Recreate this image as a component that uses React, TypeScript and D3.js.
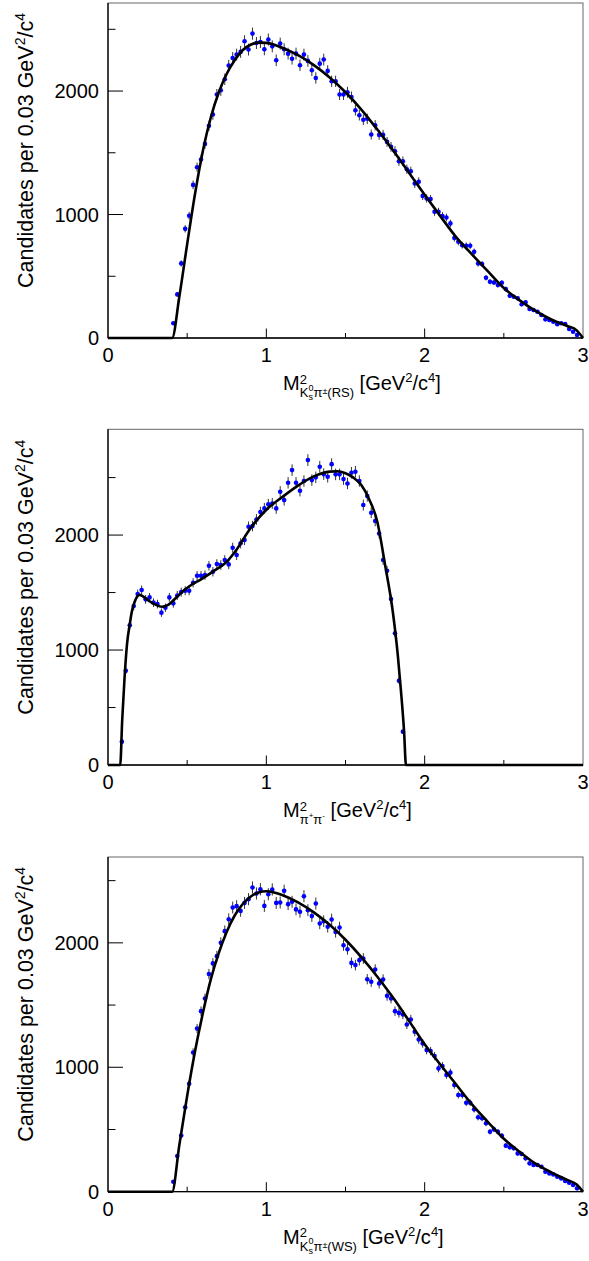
import React from "react";
import * as d3 from "d3";

// ---------- data ----------
const BIN_WIDTH = 0.025;
const X_TICKS = [0, 1, 2, 3];
const X_MINOR = [0.5, 1.5, 2.5];
const Y_TICKS = [0, 1000, 2000];
const Y_MINOR = [500, 1500, 2500];

// K_s pi (RS) : first bin index 16
const rsStart = 16;
const rsCounts = [
  119, 353, 604, 884, 990, 1240, 1383, 1446, 1572, 1718, 1810, 1972, 2006, 2095, 2206, 2268,
  2295, 2317, 2403, 2336, 2465, 2389, 2397, 2338, 2417, 2362, 2249, 2384, 2338, 2303, 2262,
  2303, 2209, 2295, 2244, 2168, 2106, 2222, 2255, 2163, 2079, 2079, 1972, 1972, 1990, 1952,
  1845, 1804, 1767, 1775, 1648, 1723, 1645, 1645, 1588, 1548, 1513, 1432, 1432, 1367, 1351,
  1251, 1265, 1151, 1130, 1125, 1022, 1022, 987, 976, 928, 810, 779, 752, 747, 747, 698, 604,
  599, 488, 456, 450, 429, 448, 396, 342, 334, 321, 273, 289, 235, 227, 213, 186, 151, 146,
  132, 111, 119, 113, 73, 51, 24,
];
const rsFit: [number, number][] = [
  [0, 0], [0.405, 0], [0.45, 330], [0.5, 760], [0.55, 1170], [0.6, 1520], [0.65, 1790],
  [0.7, 1990], [0.75, 2140], [0.8, 2250], [0.85, 2330], [0.9, 2375], [0.95, 2392], [1.0, 2390],
  [1.05, 2375], [1.1, 2350], [1.2, 2290], [1.3, 2210], [1.4, 2110], [1.5, 1990], [1.6, 1850],
  [1.7, 1690], [1.8, 1520], [1.9, 1340], [2.0, 1160], [2.1, 985], [2.2, 815], [2.3, 675],
  [2.4, 540], [2.5, 405], [2.6, 305], [2.7, 220], [2.8, 150], [2.9, 97], [2.96, 62], [3.0, 0],
];

// pi+ pi- : first bin index 3
const pipiStart = 3;
const pipiCounts = [
  203, 820, 1215, 1383, 1487, 1522, 1441, 1458, 1412, 1400, 1325, 1368, 1458, 1406, 1475,
  1504, 1516, 1516, 1585, 1646, 1646, 1652, 1733, 1681, 1748, 1739, 1783, 1745, 1890, 1826,
  1928, 1957, 2072, 2078, 2136, 2200, 2232, 2267, 2275, 2232, 2377, 2304, 2455, 2565, 2455,
  2385, 2470, 2652, 2478, 2502, 2594, 2530, 2507, 2617, 2528, 2528, 2487, 2449, 2542, 2551,
  2470, 2261, 2339, 2194, 2122, 2014, 1783, 1690, 1443, 1145, 733, 290,
];
const pipiFit: [number, number][] = [
  [0, 0], [0.077, 0], [0.09, 400], [0.105, 770], [0.12, 1050], [0.137, 1220], [0.15, 1330],
  [0.17, 1425], [0.185, 1468], [0.2, 1480], [0.225, 1462], [0.25, 1435], [0.3, 1395],
  [0.34, 1377], [0.38, 1392], [0.43, 1455], [0.48, 1520], [0.53, 1570], [0.58, 1609],
  [0.66, 1680], [0.76, 1783], [0.8, 1850], [0.9, 2060], [1.0, 2220], [1.1, 2330], [1.2, 2430],
  [1.3, 2510], [1.4, 2552], [1.45, 2555], [1.5, 2538], [1.55, 2500], [1.6, 2435], [1.65, 2310],
  [1.7, 2120], [1.75, 1740], [1.8, 1320], [1.83, 960], [1.85, 650], [1.87, 290], [1.882, 0],
  [3.0, 0],
];

// K_s pi (WS) : first bin index 16
const wsStart = 16;
const wsCounts = [
  80, 287, 451, 678, 867, 1119, 1312, 1451, 1553, 1749, 1835, 1893, 2000, 2094, 2190, 2284,
  2295, 2257, 2321, 2351, 2445, 2397, 2431, 2297, 2391, 2429, 2321, 2324, 2418, 2311, 2330,
  2269, 2250, 2375, 2263, 2215, 2316, 2156, 2174, 2129, 2188, 2088, 2123, 1981, 1949, 1839,
  1821, 1861, 1874, 1708, 1687, 1786, 1674, 1706, 1574, 1553, 1451, 1437, 1424, 1344, 1384,
  1285, 1224, 1192, 1138, 1130, 1090, 991, 1010, 938, 957, 857, 777, 777, 715, 715, 662, 598,
  590, 550, 482, 501, 482, 450, 370, 357, 349, 308, 303, 268, 228, 214, 214, 201, 161, 147,
  139, 120, 107, 86, 72, 54, 27,
];
const wsFit: [number, number][] = [
  [0, 0], [0.405, 0], [0.45, 370], [0.5, 770], [0.55, 1130], [0.6, 1440], [0.65, 1710],
  [0.7, 1920], [0.75, 2090], [0.8, 2220], [0.85, 2310], [0.9, 2370], [0.95, 2405], [1.0, 2415],
  [1.05, 2405], [1.1, 2385], [1.2, 2325], [1.3, 2245], [1.4, 2145], [1.5, 2025], [1.6, 1885],
  [1.7, 1730], [1.8, 1560], [1.9, 1375], [2.0, 1185], [2.1, 1020], [2.2, 860], [2.3, 700],
  [2.4, 560], [2.5, 425], [2.6, 320], [2.7, 225], [2.8, 155], [2.9, 95], [2.96, 58], [3.0, 0],
];

// ---------- layout ----------
const LEFT = 108;
const RIGHT = 583;
const FONT = "'Liberation Sans', Arial, Helvetica, sans-serif";

type PanelProps = {
  top: number;
  bottom: number;
  yMax: number;
  start: number;
  counts: number[];
  fit: [number, number][];
  title: React.ReactNode;
};

function Panel({ top, bottom, yMax, start, counts, fit, title }: PanelProps) {
  const x = d3.scaleLinear().domain([0, 3]).range([LEFT, RIGHT]);
  const y = d3.scaleLinear().domain([0, yMax]).range([bottom, top]);
  const line = d3
    .line<[number, number]>()
    .x((d) => x(d[0]))
    .y((d) => y(d[1]))
    .curve(d3.curveMonotoneX);
  const pts = counts.map((c, i) => ({ cx: (start + i + 0.5) * BIN_WIDTH, c }));
  const midY = (top + bottom) / 2;
  return (
    <g>
      {/* frame */}
      <rect x={LEFT} y={top} width={RIGHT - LEFT} height={bottom - top} fill="none" stroke="#666" strokeWidth={1} />
      <line x1={LEFT} x2={LEFT} y1={top} y2={bottom} stroke="#000" strokeWidth={1.3} />
      <line x1={LEFT} x2={RIGHT} y1={bottom} y2={bottom} stroke="#000" strokeWidth={1.3} />
      {/* y ticks */}
      {Y_TICKS.map((t) => (
        <g key={"yt" + t}>
          {t > 0 && <line x1={LEFT} x2={LEFT + 15} y1={y(t)} y2={y(t)} stroke="#000" strokeWidth={1} />}
          <text x={99} y={y(t)} dy="0.36em" textAnchor="end" fontSize={20} fontFamily={FONT} fill="#000">
            {t}
          </text>
        </g>
      ))}
      {Y_MINOR.map((t) => (
        <line key={"ym" + t} x1={LEFT} x2={LEFT + 7.5} y1={y(t)} y2={y(t)} stroke="#000" strokeWidth={1} />
      ))}
      {/* x ticks */}
      {X_TICKS.map((t) => (
        <g key={"xt" + t}>
          {t > 0 && t < 3 && <line x1={x(t)} x2={x(t)} y1={bottom} y2={bottom - 9.5} stroke="#000" strokeWidth={1} />}
          <text x={x(t)} y={bottom + 24} textAnchor="middle" fontSize={20} fontFamily={FONT} fill="#000">
            {t}
          </text>
        </g>
      ))}
      {X_MINOR.map((t) => (
        <line key={"xm" + t} x1={x(t)} x2={x(t)} y1={bottom} y2={bottom - 5} stroke="#000" strokeWidth={1} />
      ))}
      {/* error bars */}
      {pts.map((p, i) => (
        <line
          key={"e" + i}
          x1={x(p.cx)}
          x2={x(p.cx)}
          y1={y(p.c + Math.sqrt(p.c))}
          y2={y(Math.max(0, p.c - Math.sqrt(p.c)))}
          stroke="#333"
          strokeWidth={1}
        />
      ))}
      {/* markers */}
      {pts.map((p, i) => (
        <circle key={"m" + i} cx={x(p.cx)} cy={y(p.c)} r={2.3} fill="#0000ff" />
      ))}
      {/* fit */}
      <path d={line(fit) || ""} fill="none" stroke="#000" strokeWidth={2.6} strokeLinejoin="round" />
      {/* y title */}
      <text
        transform={`translate(33,${midY - 20}) rotate(-90)`}
        textAnchor="middle"
        fontSize={21.5}
        fontFamily={FONT}
        fill="#000"
      >
        Candidates per 0.03 GeV
        <tspan fontSize={14} dy={-8.5}>2</tspan>
        <tspan dy={8.5}>/c</tspan>
        <tspan fontSize={14} dy={-8.5}>4</tspan>
      </text>
      {/* x title */}
      <g transform={`translate(0,${bottom + 52})`}>{title}</g>
    </g>
  );
}

function KsTitle({ tag }: { tag: string }) {
  return (
    <text x={283} y={0} fontSize={20} fontFamily={FONT} fill="#000">
      M
      <tspan fontSize={13} y={-6.5}>2</tspan>
      <tspan fontSize={13} y={7} dx={-7.2}>K</tspan>
      <tspan fontSize={9} y={10}>s</tspan>
      <tspan fontSize={9} y={0.5} dx={-4.5}>0</tspan>
      <tspan fontSize={13} y={7}>π</tspan>
      <tspan fontSize={9} y={4}>±</tspan>
      <tspan fontSize={13} y={7}>{`(${tag})`}</tspan>
      <tspan y={0}> [GeV</tspan>
      <tspan fontSize={13} y={-8}>2</tspan>
      <tspan y={0}>/c</tspan>
      <tspan fontSize={13} y={-8}>4</tspan>
      <tspan y={0}>]</tspan>
    </text>
  );
}

function PipiTitle() {
  return (
    <text x={283} y={0} fontSize={20} fontFamily={FONT} fill="#000">
      M
      <tspan fontSize={13} y={-6.5}>2</tspan>
      <tspan fontSize={13} y={7} dx={-7.2}>π</tspan>
      <tspan fontSize={8} y={1}>+</tspan>
      <tspan fontSize={13} y={7}>π</tspan>
      <tspan fontSize={8} y={1}>-</tspan>
      <tspan y={0}> [GeV</tspan>
      <tspan fontSize={13} y={-8}>2</tspan>
      <tspan y={0}>/c</tspan>
      <tspan fontSize={13} y={-8}>4</tspan>
      <tspan y={0}>]</tspan>
    </text>
  );
}

export default function App() {
  return (
    <div style={{ position: "absolute", left: 0, top: 0 }}>
      <svg width={589} height={1261} style={{ display: "block", background: "#fff" }}>
        <Panel top={3} bottom={338} yMax={2713} start={rsStart} counts={rsCounts} fit={rsFit} title={<KsTitle tag="RS" />} />
        <Panel top={429.3} bottom={765} yMax={2920} start={pipiStart} counts={pipiCounts} fit={pipiFit} title={<PipiTitle />} />
        <Panel top={857} bottom={1191.7} yMax={2690} start={wsStart} counts={wsCounts} fit={wsFit} title={<KsTitle tag="WS" />} />
      </svg>
    </div>
  );
}
